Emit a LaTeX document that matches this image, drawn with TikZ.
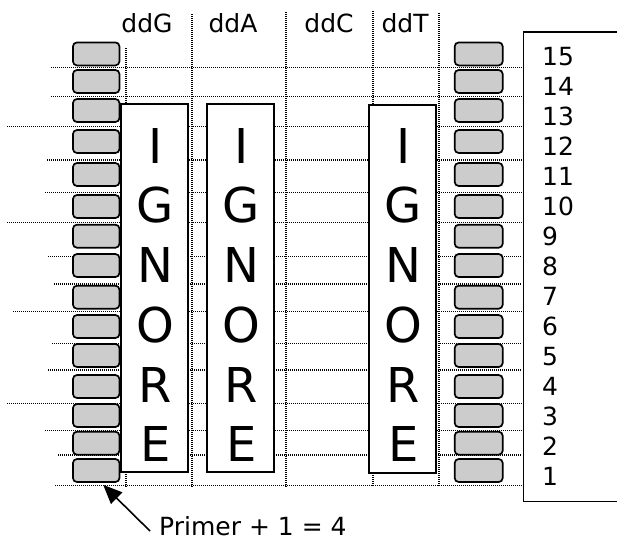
\documentclass[tikz,border=0pt]{standalone}
\usepackage{fontspec}
\setmainfont{DejaVu Sans}
\usetikzlibrary{arrows.meta,calc}
\definecolor{bandgray}{RGB}{204,204,204}
\begin{document}
\begin{tikzpicture}[x=1pt,y=-1pt,
  dotline/.style={line width=1.3pt,dash pattern=on 1pt off 1pt},
  band/.style={draw,line width=1.7pt,rounded corners=4pt,fill=bandgray,
    minimum width=46.5pt,minimum height=23pt,inner sep=0pt},
  ignbox/.style={draw,line width=1.6pt,fill=white,minimum width=67.5pt,
    minimum height=368.5pt,inner sep=0pt},
  bigletter/.style={font=\fontsize{48}{58}\selectfont,inner sep=0pt,anchor=base},
  lbl/.style={font=\fontsize{25}{30}\selectfont,inner sep=0pt,anchor=base},
  num/.style={font=\fontsize{25}{30}\selectfont,inner sep=0pt,anchor=base west}]
\useasboundingbox (0,0) rectangle (617,542);

% dotted grid
\foreach \yy/\xs in {67.3/51,96.7/51,126.7/7,160/47,192.7/45,222.3/7,256.7/48,284/54,311.7/13,343.3/52,370/48,403.3/7,430.7/45,455/58,485.7/55}
  \draw[dotline] (\xs,\yy) -- (522,\yy);
\foreach \xx/\ys in {126/48,192/14,286/12,373/11,439/13}
  \draw[dotline] (\xx,\ys) -- (\xx,487);

% ladders
\foreach \cy [count=\k] in {53.9,81.5,110.5,141.5,174.5,206.5,236.2,265.5,297.2,326.5,355.5,386.5,415.5,443.2,470.5}{
  \node[band] (lb\k) at (96.2,\cy) {};
  \node[band,minimum width=48pt] (rb\k) at (478.7,\cy) {};
}

% IGNORE boxes
\node[ignbox] (ig1) at (154.5,288) {};
\node[ignbox] (ig2) at (240.5,288) {};
\node[ignbox] (ig3) at (402.5,289) {};
\foreach \bx/\cx in {1/155.5,2/241.5,3/403.5}
  \foreach \ch [count=\i from 0] in {I,G,N,O,R,E}
    \node[bigletter] (L\bx\i) at (\cx,163+59.75*\i) {\ch};

% column labels
\node[lbl] (cG) at (147,32.7) {ddG};
\node[lbl] (cA) at (233,32.7) {ddA};
\node[lbl] (cC) at (329,32.7) {ddC};
\node[lbl] (cT) at (405,32.7) {ddT};

% number box (open to the right)
\node[draw,line width=1.5pt,minimum width=120pt,minimum height=469.7pt,inner sep=0pt] (numbox) at (583.3,266.85) {};
\foreach \n [count=\k from 0] in {15,14,...,1}
  \node[num] (n\n) at (542,65.7+30*\k) {\n};

% primer label and arrow
\node[lbl,anchor=base west] (primer) at (159,535.5) {Primer + 1 = 4};
\coordinate (ptail) at (150,531);
\draw[line width=1.6pt,-{Triangle[length=19pt,width=16pt]}] (ptail) -- ($(lb15.south)+(7,2)$);
\end{tikzpicture}
\end{document}
